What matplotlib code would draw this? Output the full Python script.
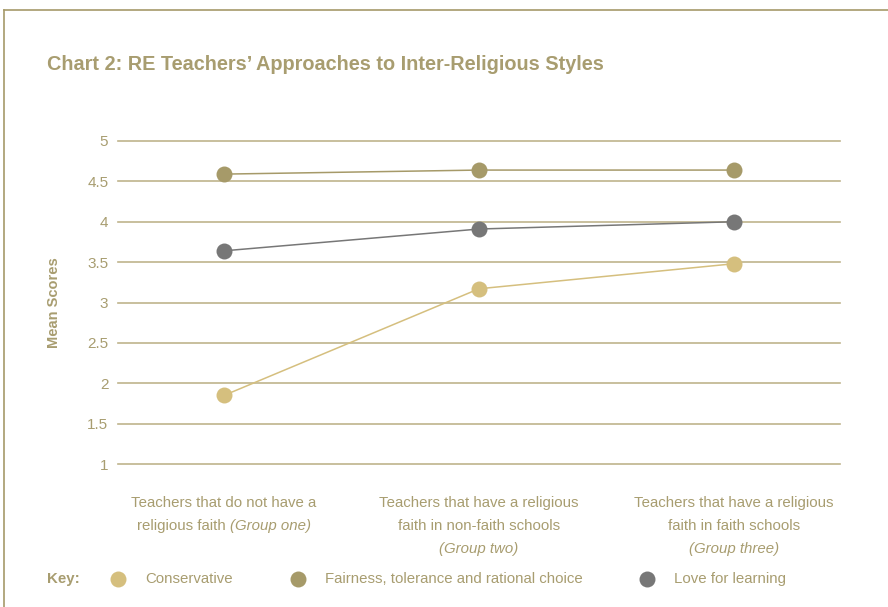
import matplotlib
matplotlib.use("Agg")
import matplotlib.pyplot as plt
from matplotlib.lines import Line2D

# data
groups = ["Group one", "Group two", "Group three"]
conservative = [1.85, 3.17, 3.48]
fairness = [4.59, 4.64, 4.64]
love = [3.64, 3.91, 4.00]
series_names = ["Conservative", "Fairness, tolerance and rational choice", "Love for learning"]
yticks = [1, 1.5, 2, 2.5, 3, 3.5, 4, 4.5, 5]
ytick_labels = ["1", "1.5", "2", "2.5", "3", "3.5", "4", "4.5", "5"]
# category labels: list of lines, each line is (plain part, italic part)
cat_lines = [
    [("Teachers that do not have a", ""), ("religious faith ", "(Group one)")],
    [("Teachers that have a religious", ""), ("faith in non-faith schools", ""), ("", "(Group two)")],
    [("Teachers that have a religious", ""), ("faith in faith schools", ""), ("", "(Group three)")],
]

C_CONS, C_FAIR, C_LOVE = "#d5bf7e", "#a69a69", "#777777"
C_TEXT, C_GRID, C_FRAME = "#a89d70", "#bfb48c", "#a69a69"

plt.rcParams["font.family"] = ["Liberation Sans", "DejaVu Sans"]

W, H = 888, 607
fig = plt.figure(figsize=(W / 100, H / 100), dpi=100)
ax = fig.add_axes([118 / W, 1 - 464 / H, (840 - 118) / W, (464 - 141) / H])

x = list(range(len(groups)))
for vals, c in ((conservative, C_CONS), (fairness, C_FAIR), (love, C_LOVE)):
    ax.plot(x, vals, color=c, lw=1.1, marker="o", ms=11.5, mec="none", zorder=3)

ax.set_xlim(-0.416, 2.416)
ax.set_ylim(1, 5)
ax.set_yticks(yticks)
ax.set_yticklabels(ytick_labels)
for yv in yticks:
    ax.axhline(yv, color=C_GRID, lw=1.2, zorder=1, clip_on=False)
ax.set_xticks([])
for sp in ax.spines.values():
    sp.set_visible(False)
ax.tick_params(axis="y", length=0, pad=7, labelsize=11, labelcolor=C_TEXT)
ax.set_ylabel("Mean Scores", fontsize=10.5, fontweight="bold", color=C_TEXT, labelpad=19)

# title and frame
fig.text(47 / W, 1 - 64 / H, "Chart 2: RE Teachers\u2019 Approaches to Inter-Religious Styles",
         fontsize=14.3, fontweight="bold", color=C_TEXT, va="center", ha="left")
fig.add_artist(Line2D([4 / W, 1], [1 - 10 / H, 1 - 10 / H], color=C_FRAME, lw=1.2))
fig.add_artist(Line2D([4 / W, 4 / W], [1 - 10 / H, 0], color=C_FRAME, lw=1.2))

# category labels with mixed italic runs
r = fig.canvas.get_renderer()
line_y = [503, 526, 549]
for gi, lines in enumerate(cat_lines):
    xc = ax.transData.transform((gi, 1))[0]
    for li, (plain, ital) in enumerate(lines):
        yp = H - line_y[li]
        parts = []
        if plain:
            parts.append(fig.text(0, yp / H, plain, fontsize=10.8, color=C_TEXT, va="center"))
        if ital:
            parts.append(fig.text(0, yp / H, ital, fontsize=10.8, color=C_TEXT, va="center", style="italic"))
        widths = [p.get_window_extent(r).width for p in parts]
        x0 = xc - sum(widths) / 2
        for p, w in zip(parts, widths):
            p.set_x(x0 / W)
            x0 += w

# key
ky = 1 - 579 / H
fig.text(47 / W, ky, "Key:", fontsize=10.8, fontweight="bold", color=C_TEXT, va="center")
for name, c, mx in zip(series_names, (C_CONS, C_FAIR, C_LOVE), (118, 298, 647)):
    fig.add_artist(Line2D([mx / W], [ky], marker="o", ms=11.5, color=c, mec="none", ls="none"))
    fig.text((mx + 27) / W, ky, name, fontsize=10.8, color=C_TEXT, va="center")

fig.savefig("out.png", dpi=100, facecolor="white")
